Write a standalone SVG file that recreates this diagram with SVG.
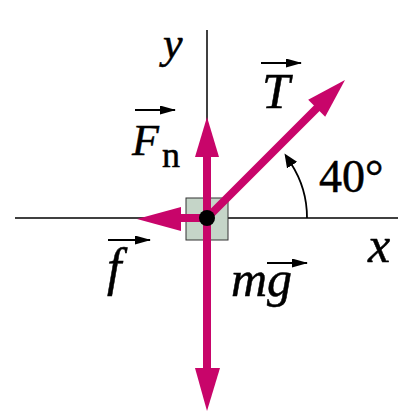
<svg xmlns="http://www.w3.org/2000/svg" width="420" height="420" viewBox="0 0 420 420">
<defs>
<style>
.axis{stroke:#000;stroke-width:1.5;fill:none}
.force{stroke:#c8056a;stroke-width:8;fill:none}
.head{fill:#c8056a;stroke:none}
.lbl{font-family:"Liberation Serif","Times New Roman",serif;fill:#000;stroke:#000;stroke-width:0.5}
.it{font-style:italic}
.vec{stroke:#000;stroke-width:1.8;fill:none}
</style>
<marker id="va" viewBox="0 0 16 9" refX="15" refY="4.5" markerWidth="16" markerHeight="9" markerUnits="userSpaceOnUse" orient="auto">
<path d="M0,0 L16,4.5 L0,9 Z" fill="#000"/>
</marker>
<marker id="aa" viewBox="0 0 14 12" refX="2" refY="6" markerWidth="14" markerHeight="12" markerUnits="userSpaceOnUse" orient="auto">
<path d="M0,0 L14,6 L0,12 Z" fill="#000"/>
</marker>
</defs>
<rect width="420" height="420" fill="#fff"/>
<g id="axes">
<line class="axis" x1="15" y1="218" x2="398" y2="218"/>
<line class="axis" x1="207" y1="30" x2="207" y2="218"/>
<text class="lbl it" x="163" y="58" font-size="44">y</text>
<text class="lbl it" x="368" y="262" font-size="50">x</text>
</g>
<g id="block">
<rect x="186" y="198" width="42" height="42" fill="#c5d5c8" stroke="#333" stroke-width="1"/>
</g>
<g id="angle">
<path class="vec" d="M307,218 A100,100 0 0 0 291,163.5" stroke-width="1.3" marker-end="url(#aa)"/>
<text class="lbl" x="319" y="192" font-size="46">40°</text>
</g>
<g id="connectors">
<g id="Fn-arrow">
<line class="force" x1="207" y1="218" x2="207" y2="150"/>
<polygon class="head" points="207,117 195,157 219,157"/>
</g>
<g id="mg-arrow">
<line class="force" x1="207" y1="218" x2="207" y2="375"/>
<polygon class="head" points="207,411 195,368 220,368"/>
</g>
<g id="f-arrow">
<line class="force" x1="207" y1="218" x2="175" y2="218"/>
<polygon class="head" points="137,219 181,207 181,231"/>
</g>
<g id="T-arrow">
<line class="force" x1="207" y1="218" x2="320" y2="105"/>
<polygon class="head" points="345,80 325.2,116.8 308.2,99.8"/>
</g>
</g>
<g id="dot">
<circle cx="207" cy="218" r="8" fill="#000"/>
</g>
<g id="label-T">
<line class="vec" x1="261" y1="63" x2="301" y2="63" marker-end="url(#va)"/>
<text class="lbl it" x="262" y="108" font-size="50">T</text>
</g>
<g id="label-Fn">
<line class="vec" x1="135" y1="110" x2="175" y2="110" marker-end="url(#va)"/>
<text class="lbl it" x="132" y="155" font-size="44">F</text>
<text class="lbl" x="162" y="167" font-size="36">n</text>
</g>
<g id="label-f">
<line class="vec" x1="108" y1="240" x2="150" y2="240" marker-end="url(#va)"/>
<text class="lbl it" x="107" y="285" font-size="52">f</text>
</g>
<g id="label-mg">
<line class="vec" x1="267" y1="263" x2="307" y2="263" marker-end="url(#va)"/>
<text class="lbl it" x="231" y="296" font-size="50">mg</text>
</g>
</svg>
